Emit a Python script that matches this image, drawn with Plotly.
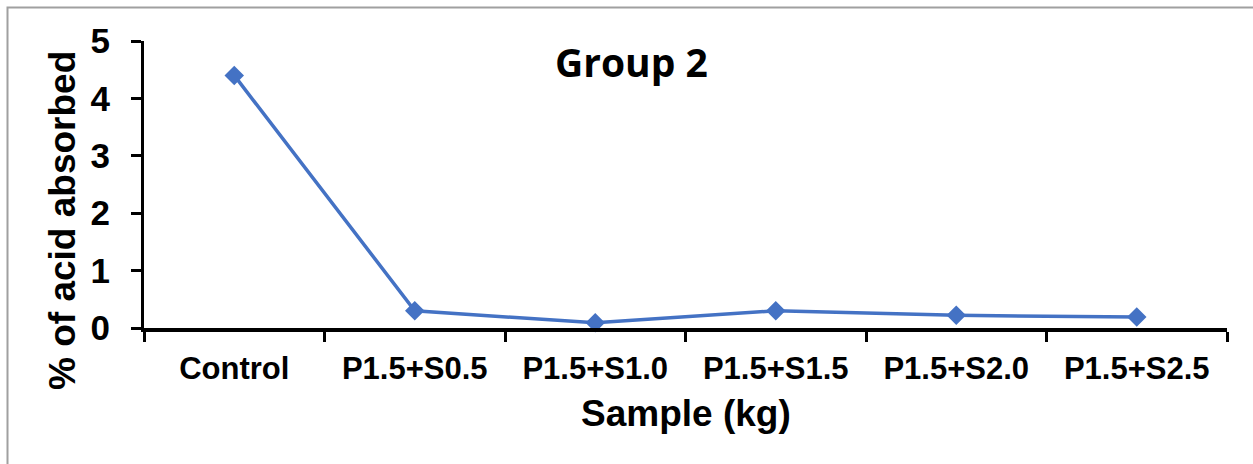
import plotly.graph_objects as go

categories = ["Control", "P1.5+S0.5", "P1.5+S1.0", "P1.5+S1.5", "P1.5+S2.0", "P1.5+S2.5"]
values = [4.40, 0.30, 0.09, 0.30, 0.22, 0.19]
y_ticks = [0, 1, 2, 3, 4, 5]

W, H = 1253, 464
L, R, T, B = 144, 26, 41, 136
pw, ph = W - L - R, H - T - B

def px_x(p):
    return (p - L) / pw

def px_y(p):
    return (H - B - p) / ph

fig = go.Figure()
fig.add_trace(go.Scatter(
    x=categories, y=values, mode="lines+markers",
    line=dict(color="#4472C4", width=3.5),
    marker=dict(symbol="diamond", size=15, color="#4472C4"),
    showlegend=False, cliponaxis=False,
))

fam = "Liberation Sans, Arial, sans-serif"
xtick_font = dict(family=fam, size=31, color="black")
ytick_font = dict(family=fam, size=35, color="black")
title_font = dict(family=fam, size=37, color="black")

fig.update_layout(
    width=W, height=H,
    margin=dict(l=L, r=R, t=T, b=B),
    paper_bgcolor="white", plot_bgcolor="white",
    xaxis=dict(
        type="category", range=[-0.5, 5.5], tickson="boundaries",
        showline=True, linecolor="black", linewidth=4,
        ticks="outside", ticklen=10, tickwidth=3, tickcolor="black",
        showgrid=False, zeroline=False,
        tickfont=xtick_font, ticklabelstandoff=10,
        tickvals=categories, ticktext=[f"<b>{c}</b>" for c in categories],
    ),
    yaxis=dict(
        range=[0, 5], tickvals=y_ticks, ticktext=[f"<b>{v}</b>" for v in y_ticks],
        showline=True, linecolor="black", linewidth=3,
        ticks="outside", ticklen=10, tickwidth=3, tickcolor="black",
        showgrid=False, zeroline=False,
        tickfont=ytick_font, ticklabelstandoff=14,
    ),
    annotations=[
        dict(text="<b>Group 2</b>", x=px_x(631), y=px_y(61), xref="paper", yref="paper",
             showarrow=False, xanchor="center", yanchor="middle",
             font=dict(family="Open Sans, sans-serif", size=39, color="black")),
        dict(text="<b>Sample (kg)</b>", x=px_x(686), y=px_y(413), xref="paper", yref="paper",
             showarrow=False, xanchor="center", yanchor="middle", font=title_font),
        dict(text="<b>% of acid absorbed</b>", x=px_x(62), y=px_y(221), xref="paper", yref="paper",
             showarrow=False, xanchor="center", yanchor="middle", textangle=-90, font=title_font),
    ],
    shapes=[dict(
        type="rect", xref="paper", yref="paper",
        x0=px_x(7.5), x1=px_x(1300), y0=px_y(7.5), y1=px_y(520),
        line=dict(color="#a0a0a0", width=2), layer="below",
    )],
)

fig.write_html("out.html")
